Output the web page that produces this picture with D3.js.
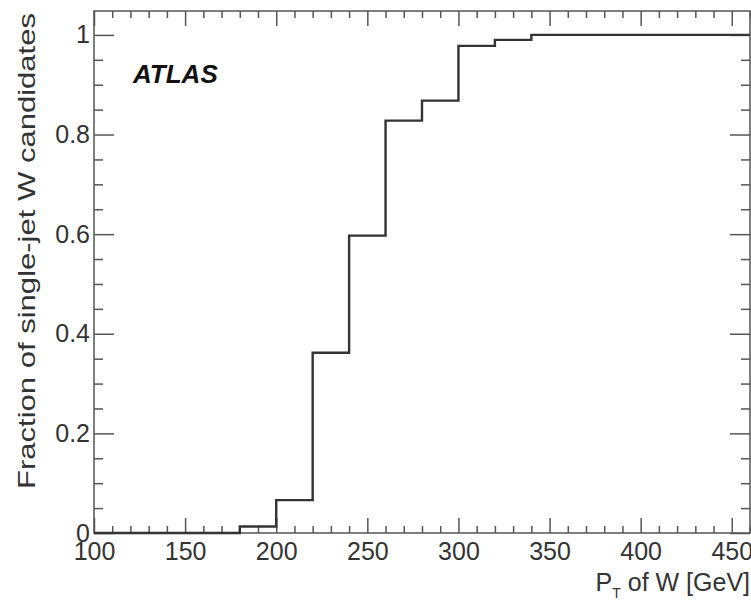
<!DOCTYPE html>
<html>
<head>
<meta charset="utf-8">
<script src="https://cdn.jsdelivr.net/npm/d3@7"></script>
<style>
  body { margin: 0; background: #fff; }
  svg text { font-family: "Liberation Sans", Arial, sans-serif; fill: #333; }
</style>
</head>
<body>
<svg id="chart" width="751" height="605"></svg>
<script>
// histogram bins (lower edge, GeV) and fraction per bin
var binStarts = [100,120,140,160,180,200,220,240,260,280,300,320,340,360,380,400,420,440]
var binWidth = 20
var fractions = [0,0,0,0,0.013,0.066,0.362,0.597,0.828,0.868,0.978,0.99,1,1,1,1,1,1]

var xMajor = [100,150,200,250,300,350,400,450]
var yMajor = [0,0.2,0.4,0.6,0.8,1]

var svg = d3.select("#chart")
// plot frame (note: "top" is reserved on window, so use plot* names)
var plotLeft = 94, plotRight = 750, plotTop = 11, plotBottom = 533

var x = d3.scaleLinear().domain([100,460]).range([plotLeft,plotRight])
var y = d3.scaleLinear().domain([0,1.048]).range([plotBottom,plotTop])

var xMinor = d3.range(100,461,10).filter(function(v){ return v % 50 != 0; })
var yMinor = d3.range(0,1.05,0.05).map(function(v){ return +v.toFixed(2); })
  .filter(function(v){ return Math.round(v*100) % 20 != 0; })

var axisColor = "#555"

function styleAxis(g) {
  g.select(".domain").remove()
  g.selectAll(".tick line").attr("stroke",axisColor).attr("stroke-width",1.5)
  g.selectAll(".tick text").attr("font-size","25px").attr("fill","#333")
}

// frame
svg.append("rect")
  .attr("x",plotLeft).attr("y",plotTop)
  .attr("width",plotRight-plotLeft).attr("height",plotBottom-plotTop)
  .attr("fill","none").attr("stroke",axisColor).attr("stroke-width",1.5)

// bottom axis
svg.append("g").attr("transform","translate(0,"+plotBottom+")")
  .call(d3.axisBottom(x).tickValues(xMajor).tickSize(-15).tickPadding(9).tickFormat(d3.format("d")))
  .call(styleAxis)
svg.append("g").attr("transform","translate(0,"+plotBottom+")")
  .call(d3.axisBottom(x).tickValues(xMinor).tickSize(-7).tickFormat(""))
  .call(styleAxis)
// top axis
svg.append("g").attr("transform","translate(0,"+plotTop+")")
  .call(d3.axisTop(x).tickValues(xMajor).tickSize(-15).tickFormat(""))
  .call(styleAxis)
svg.append("g").attr("transform","translate(0,"+plotTop+")")
  .call(d3.axisTop(x).tickValues(xMinor).tickSize(-7).tickFormat(""))
  .call(styleAxis)
// left axis
svg.append("g").attr("transform","translate("+plotLeft+",0)")
  .call(d3.axisLeft(y).tickValues(yMajor).tickSize(-20).tickPadding(4).tickFormat(d3.format("")))
  .call(styleAxis)
svg.append("g").attr("transform","translate("+plotLeft+",0)")
  .call(d3.axisLeft(y).tickValues(yMinor).tickSize(-9).tickFormat(""))
  .call(styleAxis)
// right axis
svg.append("g").attr("transform","translate("+plotRight+",0)")
  .call(d3.axisRight(y).tickValues(yMajor).tickSize(-20).tickFormat(""))
  .call(styleAxis)
svg.append("g").attr("transform","translate("+plotRight+",0)")
  .call(d3.axisRight(y).tickValues(yMinor).tickSize(-9).tickFormat(""))
  .call(styleAxis)

// step histogram
var pts = binStarts.map(function(d,i){ return [d, fractions[i]]; })
pts.push([binStarts[binStarts.length-1]+binWidth, fractions[fractions.length-1]])
var line = d3.line()
  .x(function(d){ return x(d[0]); })
  .y(function(d){ return y(d[1]); })
  .curve(d3.curveStepAfter)
svg.append("path")
  .attr("d",line(pts))
  .attr("fill","none").attr("stroke","#333").attr("stroke-width",2.4)

// labels
svg.append("text")
  .attr("x",133).attr("y",83)
  .attr("font-size","26px").attr("font-weight","bold").attr("font-style","italic")
  .style("fill","#111")
  .text("ATLAS")

svg.append("text")
  .attr("transform","translate(35,251) rotate(-90)")
  .attr("text-anchor","middle")
  .attr("font-size","24px")
  .attr("textLength",476).attr("lengthAdjust","spacingAndGlyphs")
  .text("Fraction of single-jet W candidates")

var xl = svg.append("text")
  .attr("x",750).attr("y",591)
  .attr("text-anchor","end")
  .attr("font-size","25px")
xl.append("tspan").text("P")
xl.append("tspan").attr("font-size","14px").attr("dy",7).text("T")
xl.append("tspan").attr("dy",-7).text(" of W [GeV]")
</script>
</body>
</html>
